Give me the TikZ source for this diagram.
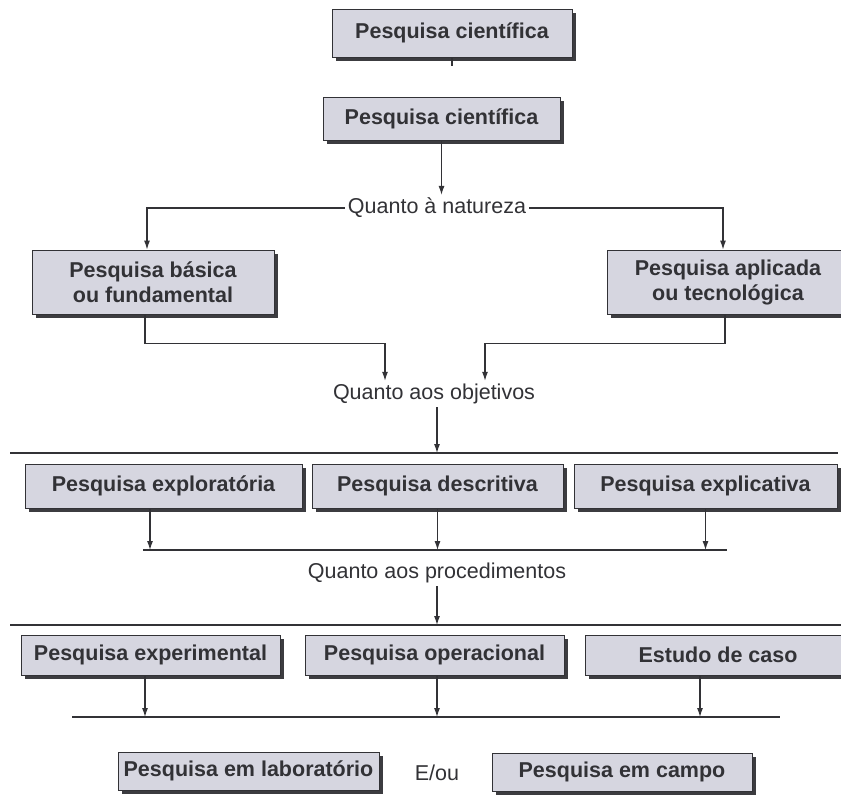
\documentclass[tikz,border=0pt]{standalone}
\usepackage{fontspec}
\setmainfont{Liberation Sans}
\usetikzlibrary{arrows.meta,shadows,calc}

\definecolor{boxfill}{RGB}{214,214,224}
\definecolor{ink}{RGB}{50,50,54}
\definecolor{shade}{RGB}{60,60,64}

\tikzset{
  x=1pt, y=-1pt,
  box/.style={draw=ink, line width=0.9pt, fill=boxfill, text=ink,
    font=\fontsize{21.5}{25}\selectfont\bfseries, inner sep=0pt, align=center,
    drop shadow={shadow xshift=3.5pt, shadow yshift=-3.5pt, fill=shade, opacity=1}},
  lbl/.style={text=ink, font=\fontsize{21.5}{25}\selectfont, inner sep=3pt},
  conn/.style={draw=ink, line width=1.1pt},
  arr/.style={conn, -{Latex[length=9pt,width=6pt]}},
  bus/.style={draw=ink, line width=1.5pt}
}

\begin{document}
\begin{tikzpicture}
\useasboundingbox[fill=white] (0,0) rectangle (841,796);
\clip (0,0) rectangle (841,796);

% top: scientific research
\node[box, minimum width=240pt, minimum height=48pt] (top) at (452,33) {Pesquisa científica};
\node[box, minimum width=237pt, minimum height=43pt] (sci) at (441.5,118.5) {Pesquisa científica};
\coordinate (stub) at (452,66);
\draw[conn] (top.south) -- (stub);

% nature
\node[lbl] (nat) at (437,208) {Quanto à natureza};
\node[box, minimum width=242pt, minimum height=64pt] (bas) at (153,282) {Pesquisa básica\\ou fundamental};
\node[box, minimum width=242pt, minimum height=64pt] (apl) at (728,282) {Pesquisa aplicada\\ou tecnológica};
\draw[arr] (sci.south) -- (sci.south |- nat.north);
\draw[arr] (nat.west) -| ([xshift=-6pt]bas.north);
\draw[arr] (nat.east) -| ([xshift=-5pt]apl.north);

% objectives
\node[lbl] (obj) at (434,394) {Quanto aos objetivos};
\draw[arr] ([xshift=-8pt]bas.south) -- ++(0,29) -| ([xshift=-49pt]obj.north);
\draw[arr] ([xshift=-3pt]apl.south) -- ++(0,29) -| ([xshift=51pt]obj.north);

\coordinate (busAl) at (10,453);
\coordinate (busAr) at (838,453);
\draw[bus] (busAl) -- (busAr);
\draw[arr] ([xshift=3pt]obj.south) -- ([xshift=3pt]obj.south |- busAl);

\node[box, minimum width=277pt, minimum height=44pt] (exp) at (163.5,486) {Pesquisa exploratória};
\node[box, minimum width=251pt, minimum height=44pt] (des) at (437.5,486) {Pesquisa descritiva};
\node[box, minimum width=263pt, minimum height=44pt] (epl) at (705.5,486) {Pesquisa explicativa};

\coordinate (busBl) at (143,550);
\coordinate (busBr) at (727,550);
\draw[bus] (busBl) -- (busBr);
\draw[arr] ([xshift=-13.5pt]exp.south) -- ([xshift=-13.5pt]exp.south |- busBl);
\draw[arr] (des.south) -- (des.south |- busBl);
\draw[arr] (epl.south) -- (epl.south |- busBl);

% procedures
\node[lbl] (proc) at (437,573) {Quanto aos procedimentos};
\coordinate (busCl) at (10,625);
\coordinate (busCr) at (841,625);
\draw[bus] (busCl) -- (busCr);
\draw[arr] (proc.south) -- (proc.south |- busCl);

\node[box, minimum width=259pt, minimum height=40pt] (ext) at (150.5,655) {Pesquisa experimental};
\node[box, minimum width=259pt, minimum height=40pt] (ope) at (434.5,655) {Pesquisa operacional};
\node[box, minimum width=266pt, minimum height=40pt] (cas) at (718,655) {Estudo de caso};

\coordinate (busDl) at (72,717);
\coordinate (busDr) at (780,717);
\draw[bus] (busDl) -- (busDr);
\draw[arr] ([xshift=-5.5pt]ext.south) -- ([xshift=-5.5pt]ext.south |- busDl);
\draw[arr] ([xshift=2.5pt]ope.south) -- ([xshift=2.5pt]ope.south |- busDl);
\draw[arr] ([xshift=-18pt]cas.south) -- ([xshift=-18pt]cas.south |- busDl);

% setting
\node[box, minimum width=261pt, minimum height=38pt] (lab) at (248.5,771) {Pesquisa em laboratório};
\node[lbl] (eou) at (437,773) {E/ou};
\node[box, minimum width=260pt, minimum height=38pt] (cam) at (622,772) {Pesquisa em campo};
\end{tikzpicture}
\end{document}
